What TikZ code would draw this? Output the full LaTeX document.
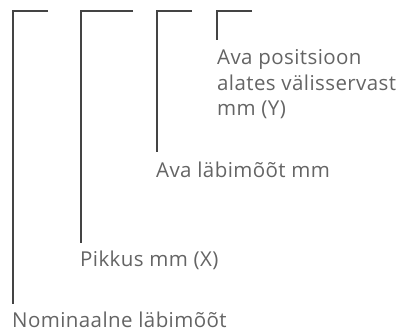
\documentclass[tikz,border=0pt]{standalone}
\usepackage{fontspec}
\setmainfont{Open Sans}[LetterSpace=2]
\definecolor{txtgray}{HTML}{646464}
\definecolor{lingray}{HTML}{444444}

\begin{document}
\begin{tikzpicture}[x=1pt, y=-1pt,
    lbl/.style={anchor=base west, inner sep=0pt, text=txtgray, align=left,
      font=\fontsize{20.5}{25.5}\selectfont},
    brk/.style={draw=lingray, line width=1.2pt}]
  \useasboundingbox (0,0) rectangle (397,334);
  % labels
  \node[lbl] (nom) at (12,328) {Nominaalne läbimõõt};
  \node[lbl] (pik) at (80,267) {Pikkus mm (X)};
  \node[lbl] (ava) at (156,178) {Ava läbimõõt mm};
  \node[lbl] (pos) at (217,116) {Ava positsioon\\alates välisservast\\mm (Y)};
  % bracket ends
  \coordinate (nomend) at (48,11);
  \coordinate (pikend) at (133,11);
  \coordinate (avaend) at (192,11);
  \coordinate (posend) at (252,11);
  \coordinate (nomfoot) at (13,304);
  \coordinate (pikfoot) at (81,243);
  \coordinate (avafoot) at (157,152);
  \coordinate (posfoot) at (217,40);
  \draw[brk] (nomend) -| (nomfoot);
  \draw[brk] (pikend) -| (pikfoot);
  \draw[brk] (avaend) -| (avafoot);
  \draw[brk] (posend) -| (posfoot);
\end{tikzpicture}
\end{document}
